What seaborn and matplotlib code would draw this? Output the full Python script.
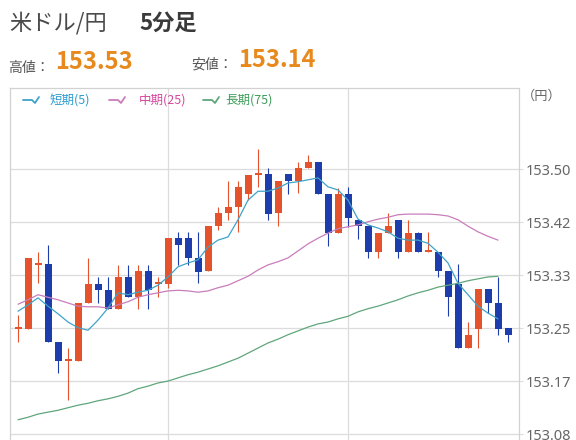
import numpy as np
import seaborn as sns
import matplotlib.pyplot as plt
from matplotlib.lines import Line2D

# 5-minute USD/JPY candles
opens = [153.248, 153.248, 153.349, 153.350, 153.228, 153.198, 153.198, 153.289, 153.319, 153.309,
         153.280, 153.330, 153.298, 153.339, 153.319, 153.319, 153.391, 153.391, 153.360, 153.339,
         153.410, 153.431, 153.440, 153.461, 153.491, 153.492, 153.431, 153.492, 153.481, 153.502,
         153.511, 153.461, 153.399, 153.461, 153.420, 153.410, 153.369, 153.399, 153.420, 153.369,
         153.399, 153.369, 153.369, 153.339, 153.319, 153.218, 153.248, 153.311, 153.289, 153.250]
closes = [153.250, 153.360, 153.350, 153.228, 153.198, 153.200, 153.289, 153.319, 153.309, 153.280,
          153.330, 153.298, 153.339, 153.309, 153.320, 153.391, 153.380, 153.360, 153.338, 153.410,
          153.431, 153.440, 153.472, 153.491, 153.492, 153.429, 153.481, 153.481, 153.502, 153.511,
          153.461, 153.399, 153.461, 153.423, 153.410, 153.369, 153.399, 153.410, 153.369, 153.399,
          153.369, 153.371, 153.339, 153.298, 153.218, 153.239, 153.311, 153.289, 153.248, 153.239]
highs = [153.270, 153.360, 153.369, 153.380, 153.228, 153.218, 153.289, 153.360, 153.330, 153.330,
         153.349, 153.349, 153.349, 153.349, 153.330, 153.391, 153.401, 153.401, 153.401, 153.410,
         153.440, 153.481, 153.481, 153.491, 153.532, 153.502, 153.481, 153.492, 153.511, 153.522,
         153.511, 153.461, 153.470, 153.472, 153.420, 153.410, 153.399, 153.431, 153.420, 153.420,
         153.401, 153.401, 153.369, 153.339, 153.350, 153.259, 153.311, 153.311, 153.330, 153.250]
lows = [153.228, 153.248, 153.320, 153.228, 153.179, 153.136, 153.198, 153.289, 153.289, 153.280,
        153.280, 153.298, 153.280, 153.280, 153.298, 153.313, 153.349, 153.349, 153.320, 153.339,
        153.404, 153.420, 153.401, 153.451, 153.472, 153.420, 153.410, 153.461, 153.462, 153.502,
        153.461, 153.379, 153.399, 153.409, 153.390, 153.360, 153.360, 153.399, 153.360, 153.369,
        153.369, 153.369, 153.330, 153.268, 153.218, 153.218, 153.218, 153.273, 153.239, 153.228]

# moving averages (short 5, mid 25, long 75)
ma_short = [153.276, 153.286, 153.297, 153.284, 153.272, 153.259, 153.250, 153.246, 153.262, 153.281,
            153.305, 153.302, 153.306, 153.309, 153.317, 153.330, 153.346, 153.352, 153.357, 153.377,
            153.388, 153.393, 153.420, 153.451, 153.465, 153.465, 153.470, 153.478, 153.480, 153.483,
            153.486, 153.472, 153.467, 153.451, 153.421, 153.412, 153.407, 153.401, 153.391, 153.388,
            153.388, 153.383, 153.369, 153.352, 153.320, 153.302, 153.284, 153.273, 153.264]
ma_mid = [153.287, 153.294, 153.302, 153.298, 153.294, 153.289, 153.284, 153.283, 153.283, 153.281,
          153.286, 153.291, 153.298, 153.302, 153.305, 153.308, 153.309, 153.308, 153.306, 153.308,
          153.313, 153.317, 153.324, 153.331, 153.341, 153.349, 153.354, 153.360, 153.371, 153.382,
          153.391, 153.399, 153.406, 153.409, 153.412, 153.417, 153.421, 153.424, 153.428, 153.429,
          153.429, 153.429, 153.428, 153.426, 153.420, 153.410, 153.401, 153.394, 153.388]
ma_long = [153.105, 153.109, 153.114, 153.117, 153.120, 153.124, 153.128, 153.131, 153.135, 153.138,
           153.142, 153.147, 153.154, 153.158, 153.163, 153.166, 153.171, 153.176, 153.180, 153.185,
           153.190, 153.196, 153.202, 153.210, 153.218, 153.226, 153.232, 153.239, 153.245, 153.251,
           153.256, 153.259, 153.264, 153.268, 153.275, 153.280, 153.284, 153.289, 153.294, 153.300,
           153.305, 153.309, 153.314, 153.317, 153.320, 153.324, 153.327, 153.330, 153.331]

y_grid = [153.0825, 153.166, 153.2495, 153.333, 153.4165, 153.50]
y_labels = ['153.08', '153.17', '153.25', '153.33', '153.42', '153.50']
x_grid = [15, 33]

title_text = '米ドル/円'
title_span = '5分足'
high_label, high_value = '高値：', '153.53'
low_label, low_value = '安値：', '153.14'
unit_label = '（円）'
legend_labels = ['短期(5)', '中期(25)', '長期(75)']

UP = '#E4532B'
DOWN = '#1C3DAB'
MA_COLORS = ['#3FA3C8', '#C97DBB', '#5FA67B']
LEG_TEXT = ['#2E9BCF', '#D6479C', '#3F9C5C']
ORANGE = '#E8891E'
GRID = '#DCDCDC'

sns.set_theme(style='white')
plt.rcParams['font.family'] = ['Noto Sans CJK JP', 'DejaVu Sans']

W, H = 576, 440
fig = plt.figure(figsize=(W / 100, H / 100), dpi=100)
ax = fig.add_axes([10 / W, -5 / H, 509 / W, 357 / H])

idx = np.arange(len(opens))

# grid
for g in y_grid:
    ax.axhline(g, color=GRID, lw=0.9, zorder=0)
for g in x_grid:
    ax.axvline(g, color=GRID, lw=0.9, zorder=0)

# candles
o = np.array(opens)
c = np.array(closes)
colors = [UP if cc >= oo else DOWN for oo, cc in zip(o, c)]
ax.vlines(idx, lows, highs, colors=colors, lw=0.8, zorder=2)
body = np.maximum(np.abs(c - o), 0.003)
ax.bar(idx, body, bottom=np.minimum(o, c), width=0.7, color=colors, linewidth=0, zorder=3)

# moving averages
for ma, col in zip([ma_long, ma_mid, ma_short], MA_COLORS[::-1]):
    sns.lineplot(x=idx[:len(ma)], y=ma, color=col, lw=0.9, ax=ax, zorder=4)

ax.set_xlim(-0.8, 50.1)
ax.set_ylim(153.0653, 153.6276)
ax.set_xticks([])
ax.yaxis.tick_right()
ax.set_yticks(y_grid)
ax.set_yticklabels(y_labels)
ax.tick_params(axis='y', right=True, length=3, width=0.8, color=GRID,
               labelsize=10.5, labelcolor='#666666', pad=1.5)
for lbl in ax.get_yticklabels():
    lbl.set_family(['Noto Sans', 'DejaVu Sans'])
for side in ['left', 'top', 'right', 'bottom']:
    ax.spines[side].set_color('#D2D2D2')
    ax.spines[side].set_linewidth(0.9)


def fx(px):
    return px / W


def fy(py):
    return 1 - py / H


# header texts
fig.text(fx(9), fy(23), title_text, fontsize=16, color='#4A4A4A', va='center')
fig.text(fx(139), fy(23), title_span, fontsize=16, color='#3A3A3A', va='center', weight='bold')
fig.text(fx(8), fy(68), high_label, fontsize=10, color='#555555', va='center')
fig.text(fx(55), fy(62), high_value, fontsize=17, color=ORANGE, va='center', weight='bold')
fig.text(fx(191), fy(65), low_label, fontsize=10, color='#555555', va='center')
fig.text(fx(238), fy(60), low_value, fontsize=17, color=ORANGE, va='center', weight='bold')
fig.text(fx(522), fy(96), unit_label, fontsize=9.5, color='#666666', va='center')

# legend: small wave icon + coloured label
icon_x = [23, 109, 203]
text_x = [50, 139, 225]
wave_dx = [0, 7, 9, 12, 16]
wave_dy = [0, 0, 0, 3, -3]
for k in range(3):
    xs = [fx(icon_x[k] + d) for d in wave_dx]
    ys = [fy(100 + d) for d in wave_dy]
    fig.add_artist(Line2D(xs, ys, color=MA_COLORS[k], lw=1.3, transform=fig.transFigure))
    fig.text(fx(text_x[k]), fy(100), legend_labels[k], fontsize=9, color=LEG_TEXT[k], va='center')

fig.savefig('out.png', dpi=100)
